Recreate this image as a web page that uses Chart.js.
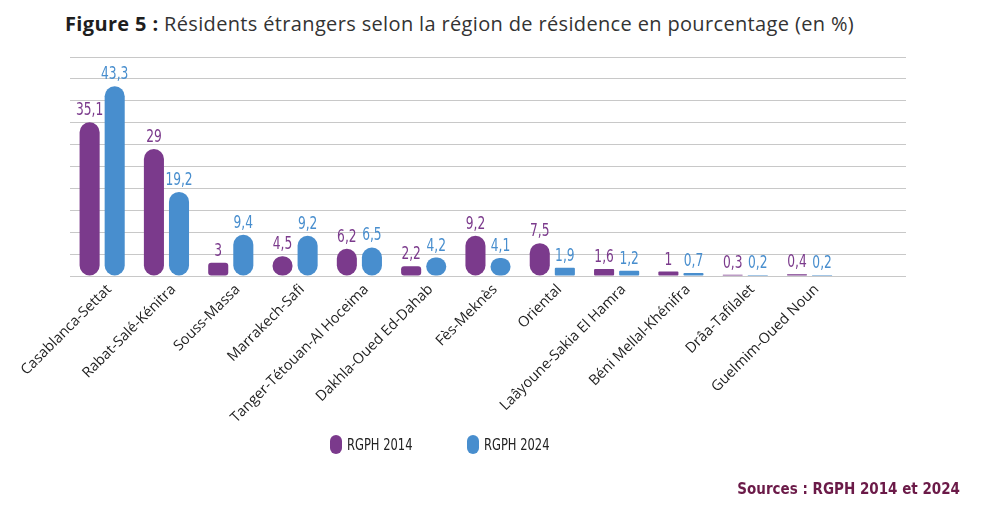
<!DOCTYPE html>
<html>
<head>
<meta charset="utf-8">
<script src="https://cdn.jsdelivr.net/npm/chart.js@4.4.1/dist/chart.umd.min.js"></script>
<style>
  html, body { margin: 0; padding: 0; background: #fff; }
  #wrap { position: relative; width: 991px; height: 515px; overflow: hidden; }
  #graf { position: absolute; left: 0; top: 0; }
  .titre { position: absolute; left: 65px; top: 10px; font-family: "Open Sans", sans-serif; font-size: 20px; letter-spacing: 0.35px; color: #333; white-space: nowrap; }
  .titre b { color: #1e1e1e; font-weight: 700; }
  .leg { position: absolute; top: 435px; font-family: "Liberation Sans Narrow", "DejaVu Sans Condensed", sans-serif; font-size: 16px; color: #222; display: flex; align-items: center; }
  .leg span { display: inline-block; transform: scaleX(0.8); transform-origin: left center; }
  .pill { width: 12px; height: 19px; border-radius: 6px; margin-right: 5px; }
  .sources { position: absolute; right: 31px; top: 480px; font-family: "Liberation Sans Narrow", "DejaVu Sans Condensed", sans-serif; font-weight: bold; font-size: 15px; color: #6b1a48; }
</style>
</head>
<body>
<div id="wrap">
  <div class="titre"><b>Figure 5 :</b> Résidents étrangers selon la région de résidence en pourcentage (en %)</div>
  <canvas id="graf" width="991" height="515"></canvas>
  <div class="leg" style="left:330px"><div class="pill" style="background:#7b3a8c"></div><span>RGPH 2014</span></div>
  <div class="leg" style="left:467px"><div class="pill" style="background:#488ece"></div><span>RGPH 2024</span></div>
  <div class="sources">Sources : RGPH 2014 et 2024</div>
</div>
<script>
const regions = [
  "Casablanca-Settat", "Rabat-Salé-Kénitra", "Souss-Massa", "Marrakech-Safi",
  "Tanger-Tétouan-Al Hoceima", "Dakhla-Oued Ed-Dahab", "Fès-Meknès", "Oriental",
  "Laâyoune-Sakia El Hamra", "Béni Mellal-Khénifra", "Drâa-Tafilalet", "Guelmim-Oued Noun"
];
const rgph2014 = [35.1, 29, 3, 4.5, 6.2, 2.2, 9.2, 7.5, 1.6, 1, 0.3, 0.4];
const rgph2024 = [43.3, 19.2, 9.4, 9.2, 6.5, 4.2, 4.1, 1.9, 1.2, 0.7, 0.2, 0.2];

const violet = "#7b3a8c";
const bleu = "#488ece";
const policeEtroite = "'Liberation Sans Narrow', 'DejaVu Sans Condensed', sans-serif";

// arrondi des barres : pleine pilule pour les grandes, presque carré pour les petites
function arrondi(ctx) {
  const v = ctx.raw;
  if (v >= 4) return 10;
  if (v >= 2) return 3;
  return 1;
}

// valeurs au-dessus des barres, avec virgule (texte un peu resserré)
const etiquettes = {
  id: "etiquettes",
  afterDatasetsDraw(chart) {
    const ctx = chart.ctx;
    chart.data.datasets.forEach((ds, i) => {
      const meta = chart.getDatasetMeta(i);
      meta.data.forEach((bar, j) => {
        const v = ds.data[j];
        if (v == null) return;
        ctx.save();
        ctx.font = "17px " + policeEtroite;
        ctx.textAlign = "center";
        ctx.textBaseline = "bottom";
        ctx.fillStyle = ds.backgroundColor;
        ctx.translate(bar.x, bar.y - 3);
        ctx.scale(0.8, 1);
        ctx.fillText(String(v).replace(".", ","), 0, 0);
        ctx.restore();
      });
    });
  }
};

new Chart(document.getElementById("graf").getContext("2d"), {
  type: "bar",
  data: {
    labels: [...regions, ""], // case vide à droite, comme sur la figure
    datasets: [
      { label: "RGPH 2014", data: rgph2014, backgroundColor: violet, borderRadius: arrondi, borderSkipped: false },
      { label: "RGPH 2024", data: rgph2024, backgroundColor: bleu, borderRadius: arrondi, borderSkipped: false }
    ]
  },
  options: {
    responsive: false,
    animation: false,
    categoryPercentage: 0.78,
    barPercentage: 0.8,
    layout: { padding: { left: 70, right: 85, top: 57, bottom: 0 } },
    plugins: {
      legend: { display: false },
      tooltip: { enabled: false }
    },
    scales: {
      x: {
        grid: { display: false },
        border: { display: false },
        ticks: {
          autoSkip: false,
          minRotation: 45,
          maxRotation: 45,
          padding: -3,
          labelOffset: 7,
          color: "#1e1e1e",
          font: { family: "'Open Sans', sans-serif", size: 14.5 }
        },
        afterFit: (s) => { s.height = 239; }
      },
      y: {
        min: 0,
        max: 50,
        ticks: { display: false, stepSize: 5 },
        border: { display: false },
        grid: { color: "#c8c8c8", lineWidth: 1, drawTicks: false },
        afterFit: (s) => { s.width = 0; }
      }
    }
  },
  plugins: [etiquettes]
});
</script>
</body>
</html>
